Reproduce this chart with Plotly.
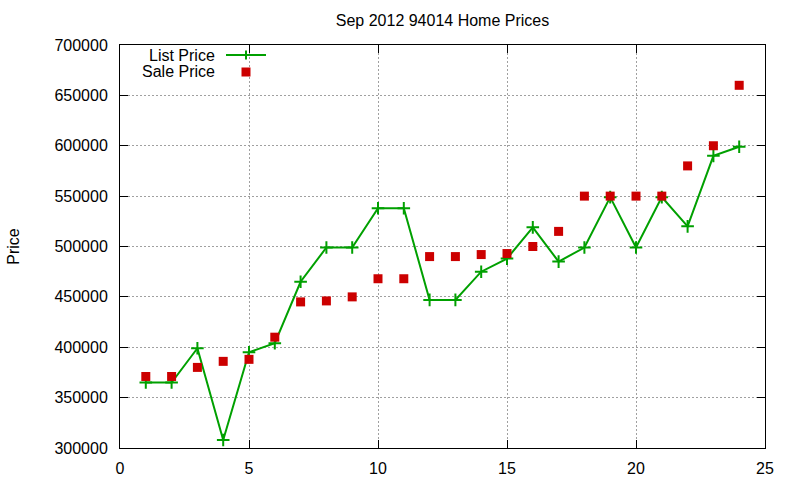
import plotly.graph_objects as go

# Data
index = list(range(1, 25))
list_price = [365000, 365000, 399000, 308000, 395000, 404000, 465000, 499000,
              499000, 538000, 538000, 447000, 447000, 475000, 488000, 519000,
              485000, 499000, 549000, 499000, 549000, 520000, 590000, 599000]
sale_price = [371000, 371000, 380000, 386000, 388000, 410000, 445000, 446000,
              450000, 468000, 468000, 490000, 490000, 492000, 493000, 500000,
              515000, 550000, 550000, 550000, 550000, 580000, 600000, 660000]
series_names = ["List Price", "Sale Price"]
title_text = "Sep 2012 94014 Home Prices"
y_title = "Price"

GREEN = "#00a000"
RED = "#cc0000"
FONT = "Liberation Sans, Arial, sans-serif"

fig = go.Figure()
fig.add_trace(go.Scatter(
    x=index, y=list_price, mode="lines+markers", name=series_names[0],
    line=dict(color=GREEN, width=2),
    marker=dict(symbol="cross-thin", size=9, line=dict(color=GREEN, width=2)),
    showlegend=False,
))
fig.add_trace(go.Scatter(
    x=index, y=sale_price, mode="markers", name=series_names[1],
    marker=dict(symbol="square", size=9, color=RED, line=dict(width=0)),
    showlegend=False,
))

# Plot area: x 120..765, y 45..448
L, R, T, B = 120, 765, 45, 448
W, H = R - L, B - T

def px(x):
    return (x - L) / W

def py(y):
    return (B - y) / H

shapes = []
# legend sample: line with plus
shapes.append(dict(type="line", xref="paper", yref="paper",
                   x0=px(226), x1=px(266), y0=py(55), y1=py(55),
                   line=dict(color=GREEN, width=2)))
shapes.append(dict(type="line", xref="paper", yref="paper",
                   x0=px(246), x1=px(246), y0=py(50.5), y1=py(59.5),
                   line=dict(color=GREEN, width=2)))
# legend sample: square
shapes.append(dict(type="rect", xref="paper", yref="paper",
                   x0=px(241.5), x1=px(250.5), y0=py(67.5), y1=py(76.5),
                   fillcolor=RED, line=dict(width=0)))

annotations = [
    dict(text=series_names[0], xref="paper", yref="paper", x=px(217), y=py(55),
         xanchor="right", yanchor="middle", showarrow=False,
         font=dict(family=FONT, size=16, color="black")),
    dict(text=series_names[1], xref="paper", yref="paper", x=px(217), y=py(71),
         xanchor="right", yanchor="middle", showarrow=False,
         font=dict(family=FONT, size=16, color="black")),
]

axis_common = dict(
    showline=True, linecolor="black", linewidth=1, mirror="allticks",
    ticks="inside", ticklen=8, tickwidth=1, tickcolor="black",
    showgrid=True, gridcolor="#a0a0a0", gridwidth=1, griddash="2px,2px",
    zeroline=False, automargin=False,
    tickfont=dict(family=FONT, size=16, color="black"),
)

fig.update_layout(
    width=800, height=480,
    margin=dict(l=L, r=800 - R, t=T, b=480 - B),
    paper_bgcolor="white", plot_bgcolor="white",
    title=dict(text=title_text, x=0.5, xref="paper",
               y=1 - 20 / 480, yref="container", yanchor="middle", xanchor="center",
               font=dict(family=FONT, size=16, color="black")),
    xaxis=dict(range=[0, 25], tick0=0, dtick=5, ticklabelstandoff=6, **axis_common),
    yaxis=dict(range=[300000, 700000], tick0=300000, dtick=50000,
               tickformat="d", ticklabelstandoff=8,
               title=dict(text=y_title, standoff=30,
                          font=dict(family=FONT, size=16, color="black")),
               **axis_common),
    shapes=shapes,
    annotations=annotations,
    showlegend=False,
)

fig.write_html("out.html")
